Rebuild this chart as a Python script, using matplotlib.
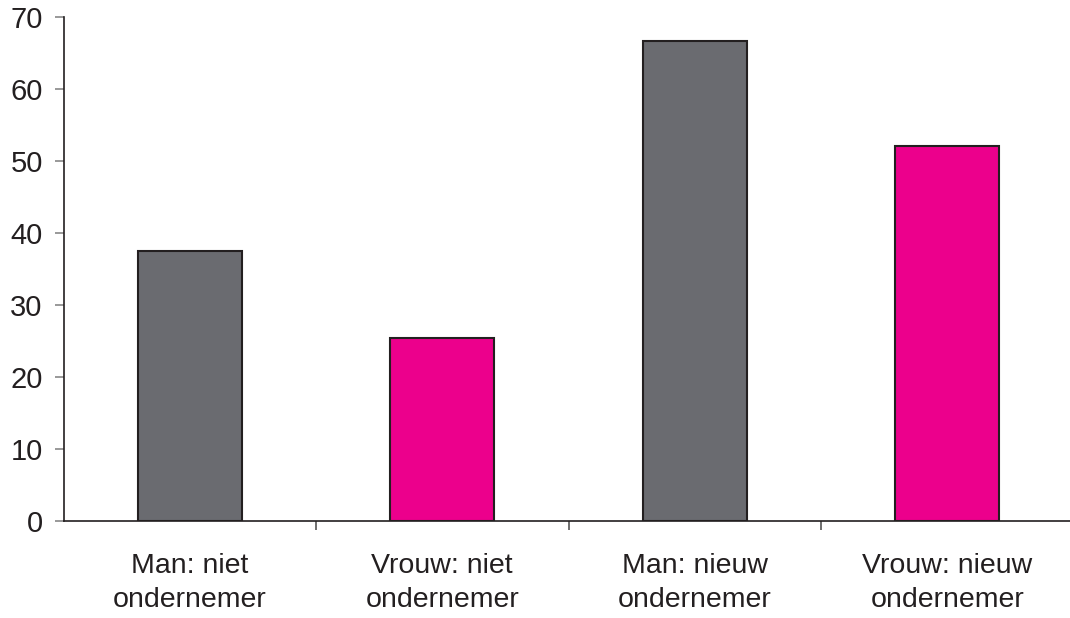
import matplotlib
matplotlib.use("Agg")
import matplotlib.pyplot as plt

categories = ["Man: niet\nondernemer", "Vrouw: niet\nondernemer", "Man: nieuw\nondernemer", "Vrouw: nieuw\nondernemer"]
values = [37.5, 25.4, 66.7, 52.1]
colors = ["#6a6b70", "#ec008c", "#6a6b70", "#ec008c"]
yticks = [0, 10, 20, 30, 40, 50, 60, 70]

plt.rcParams['font.family'] = ['Liberation Sans', 'DejaVu Sans']

W, H = 1070, 618
fig = plt.figure(figsize=(W/100, H/100), dpi=100)
left, right, top, bottom = 63.5, 1073.5, 17, 521
ax = fig.add_axes([left/W, 1-bottom/H, (right-left)/W, (bottom-top)/H])

x = list(range(len(categories)))
ax.bar(x, values, width=0.41, color=colors, edgecolor="#231f20", linewidth=1.5, zorder=3)

ax.set_xlim(-0.5, len(categories)-0.5)
ax.set_ylim(0, 70)
ax.set_yticks(yticks)
ax.set_yticklabels([str(v) for v in yticks], fontsize=21, color="#231f20")

ax.set_xticks([i + 0.5 for i in range(len(categories)-1)])
ax.set_xticklabels([])
ax.set_xticks(x, minor=True)
ax.set_xticklabels(categories, minor=True, fontsize=20.5, color="#231f20", linespacing=1.4)
ax.tick_params(axis='x', which='minor', length=0, pad=23)
ax.tick_params(axis='x', which='major', length=6.5, width=1.2, color="#555555", direction='out')
ax.tick_params(axis='y', length=6.5, width=1.2, color="#888888", direction='out', pad=8.5)

for s in ['top', 'right']:
    ax.spines[s].set_visible(False)
ax.spines['left'].set_color("#231f20")
ax.spines['left'].set_linewidth(1.2)
ax.spines['bottom'].set_color("#231f20")
ax.spines['bottom'].set_linewidth(1.2)

fig.savefig("out.png", dpi=100)
